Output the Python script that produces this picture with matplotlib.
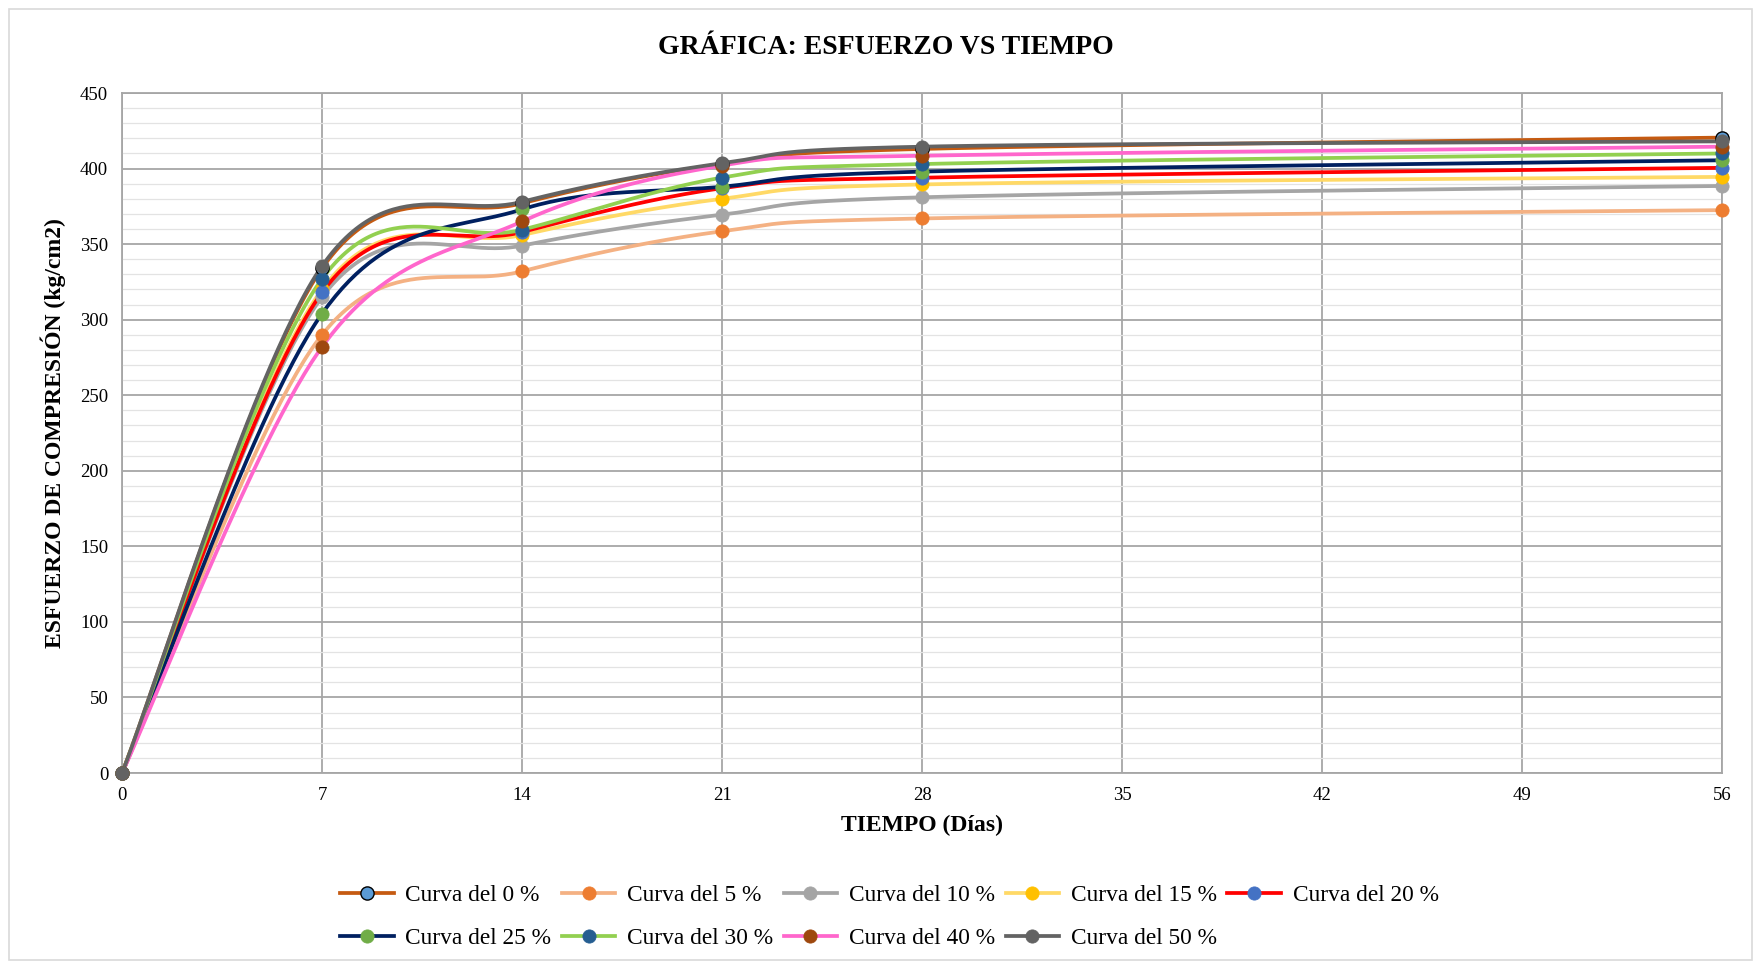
import numpy as np
import matplotlib
matplotlib.use("Agg")
import matplotlib.pyplot as plt
from matplotlib.lines import Line2D
from matplotlib.patches import Rectangle

plt.rcParams["font.family"] = ["Liberation Serif", "DejaVu Serif"]

# Data (days vs compressive strength kg/cm2)
dias = [0, 7, 14, 21, 28, 56]
curva_0 = [0, 334, 377, 403, 413, 420.5]
curva_5 = [0, 290, 332, 358.5, 367, 372.5]
curva_10 = [0, 315, 349, 369.5, 381, 388.5]
curva_15 = [0, 320, 356, 380, 389.5, 394.5]
curva_20 = [0, 318, 358, 387, 394, 400.5]
curva_25 = [0, 304, 373, 388, 398, 405.5]
curva_30 = [0, 327, 359.5, 394, 403, 410]
curva_40 = [0, 282, 365, 402, 408.5, 414.5]
curva_50 = [0, 335.5, 378, 403.5, 414.5, 418]

series = [curva_0, curva_5, curva_10, curva_15, curva_20,
          curva_25, curva_30, curva_40, curva_50]
labels = ["Curva del 0 %", "Curva del 5 %", "Curva del 10 %", "Curva del 15 %",
          "Curva del 20 %", "Curva del 25 %", "Curva del 30 %", "Curva del 40 %",
          "Curva del 50 %"]
line_colors = ["#C55A11", "#F4B183", "#A5A5A5", "#FFD966", "#FF0000",
               "#002060", "#92D050", "#FF66CC", "#636363"]
marker_colors = ["#5B9BD5", "#ED7D31", "#A5A5A5", "#FFC000", "#4472C4",
                 "#70AD47", "#255E91", "#9E480E", "#636363"]
edge_colors = ["#000000", "#ED7D31", "#A5A5A5", "#FFC000", "#4472C4",
               "#70AD47", "#255E91", "#9E480E", "#636363"]


def smooth(xs, ys, n=60):
    # Bezier smoothing similar to Excel's smoothed lines
    p = np.column_stack([xs, ys]).astype(float)
    p_ext = np.vstack([p[0], p, p[-1]])
    t = np.linspace(0, 1, n)[:, None]
    out = []
    for i in range(len(p) - 1):
        p0, p1, p2, p3 = p_ext[i], p_ext[i + 1], p_ext[i + 2], p_ext[i + 3]
        c1 = p1 + (p2 - p0) / 6
        c2 = p2 - (p3 - p1) / 6
        seg = ((1 - t) ** 3) * p1 + 3 * ((1 - t) ** 2) * t * c1 \
            + 3 * (1 - t) * t ** 2 * c2 + t ** 3 * p2
        out.append(seg)
    out = np.vstack(out)
    return out[:, 0], out[:, 1]


fig = plt.figure(figsize=(17.61, 9.64), dpi=100)
ax = fig.add_axes([0.0693, 0.1981, 0.9086, 0.7054])

for i, ys in enumerate(series):
    sx, sy = smooth(dias, ys)
    ax.plot(sx, sy, color=line_colors[i], lw=2.7, zorder=3 + i * 0.01,
            solid_capstyle="round")
for i, ys in enumerate(series):
    ax.plot(dias, ys, ls="none", marker="o", ms=9.5, mfc=marker_colors[i],
            mec=edge_colors[i], mew=1.0 if i == 0 else 0.6, zorder=5 + i * 0.01,
            clip_on=False)

ax.set_xlim(0, 56)
ax.set_ylim(0, 450)
ax.set_xticks(np.arange(0, 57, 7))
ax.set_yticks(np.arange(0, 451, 50))
ax.set_yticks(np.arange(0, 451, 10), minor=True)
ax.grid(which="major", color="#A6A6A6", lw=1.3, zorder=0)
ax.grid(which="minor", axis="y", color="#E3E3E3", lw=0.9, zorder=0)
ax.set_axisbelow(True)
for s in ax.spines.values():
    s.set_color("#A6A6A6")
    s.set_linewidth(1.3)
ax.tick_params(which="both", length=0, labelsize=13.5, pad=10)

ax.set_xlabel("TIEMPO (Días)", fontsize=17, fontweight="bold", labelpad=8)
ax.set_ylabel("ESFUERZO DE COMPRESIÓN (kg/cm2)", fontsize=17,
              fontweight="bold", labelpad=10)
fig.text(0.503, 0.951, "GRÁFICA: ESFUERZO VS TIEMPO", ha="center", va="center",
         fontsize=20, fontweight="bold")

handles = [Line2D([], [], color=line_colors[i], lw=2.7, marker="o", ms=9.5,
                  mfc=marker_colors[i], mec=edge_colors[i],
                  mew=1.0 if i == 0 else 0.6) for i in range(len(series))]
# legend fills column by column; reorder so it reads row by row
order = [0, 5, 1, 6, 2, 7, 3, 8, 4]
fig.legend([handles[k] for k in order], [labels[k] for k in order],
           loc="center", bbox_to_anchor=(0.505, 0.049),
           ncol=5, frameon=False, fontsize=16.8, handlelength=2.3,
           handletextpad=0.5, columnspacing=0.45, labelspacing=0.95)

fig.patches.append(Rectangle((0.005, 0.004), 0.99, 0.987,
                             transform=fig.transFigure, fill=False,
                             edgecolor="#D9D9D9", lw=1.2))

fig.savefig("out.png", dpi=100)
